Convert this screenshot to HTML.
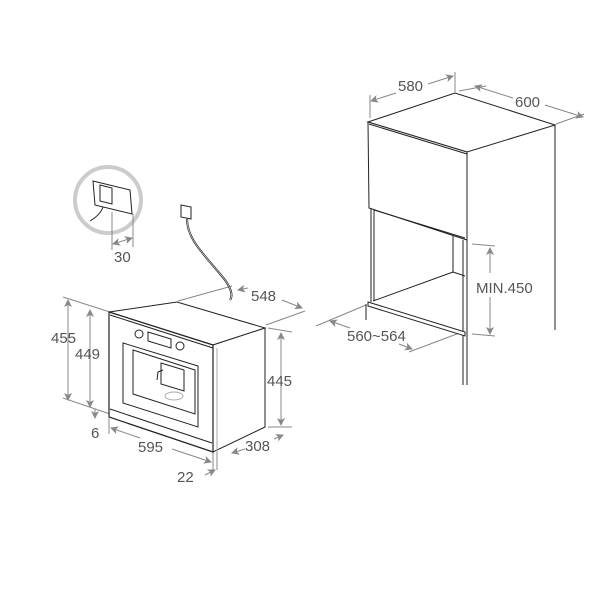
<!DOCTYPE html>
<html><head><style>
html,body{margin:0;padding:0;background:#fff;}
svg{display:block;}
text{font-family:"Liberation Sans",sans-serif;font-size:15px;fill:#555;}
</style></head><body>
<svg width="600" height="600" viewBox="0 0 600 600" xmlns="http://www.w3.org/2000/svg">
<defs>
<marker id="a" markerWidth="8" markerHeight="8" refX="7" refY="4" orient="auto-start-reverse" markerUnits="userSpaceOnUse">
<path d="M0,0 L8,4 L0,8 L2,4 Z" fill="#888"/></marker>
</defs>
<g stroke="#888" stroke-width="1" fill="none">
<circle cx="108" cy="200" r="33" stroke="#ccc" stroke-width="4"/>
<line x1="112" y1="212" x2="112" y2="250"/><line x1="133" y1="214" x2="133" y2="247"/>
<line x1="113" y1="244" x2="132" y2="238" marker-start="url(#a)" marker-end="url(#a)"/>
<line x1="63" y1="297" x2="110" y2="312"/><line x1="63" y1="398" x2="110" y2="414"/>
<line x1="68" y1="300" x2="68" y2="400" marker-start="url(#a)" marker-end="url(#a)"/>
<line x1="90" y1="310" x2="90" y2="407" marker-start="url(#a)" marker-end="url(#a)"/>
<line x1="95" y1="409" x2="95" y2="418" marker-end="url(#a)"/>
<line x1="109" y1="418" x2="109" y2="434"/><line x1="213" y1="452" x2="213" y2="470"/>
<line x1="111" y1="428" x2="140" y2="438" marker-start="url(#a)"/>
<line x1="172" y1="449" x2="211" y2="462" marker-end="url(#a)"/>
<line x1="217" y1="452" x2="217" y2="470"/>
<line x1="205" y1="475" x2="215" y2="470" marker-end="url(#a)"/>
<line x1="268" y1="328" x2="292" y2="332"/><line x1="268" y1="427" x2="292" y2="427"/>
<line x1="281" y1="333" x2="281" y2="425" marker-start="url(#a)" marker-end="url(#a)"/>
<line x1="232" y1="453" x2="245" y2="449" marker-start="url(#a)"/>
<line x1="274" y1="439" x2="283" y2="435" marker-end="url(#a)"/>
<line x1="178" y1="301" x2="232" y2="286"/>
<line x1="238" y1="290" x2="248" y2="288" marker-start="url(#a)"/>
<line x1="282" y1="300" x2="302" y2="308" marker-end="url(#a)"/>
<line x1="266" y1="325" x2="305" y2="311"/>
<line x1="370" y1="118" x2="370" y2="95"/><line x1="455" y1="92" x2="455" y2="72"/>
<line x1="371" y1="101" x2="396" y2="93" marker-start="url(#a)"/>
<line x1="428" y1="84" x2="453" y2="76" marker-end="url(#a)"/>
<line x1="459" y1="91" x2="486" y2="86" />
<line x1="475" y1="86" x2="513" y2="98" marker-start="url(#a)"/>
<line x1="545" y1="105" x2="583" y2="117" marker-end="url(#a)"/>
<line x1="556" y1="124" x2="584" y2="114"/>
<line x1="472" y1="244" x2="495" y2="246"/><line x1="472" y1="334" x2="495" y2="336"/>
<line x1="490" y1="248" x2="490" y2="273" marker-start="url(#a)"/>
<line x1="490" y1="297" x2="490" y2="334" marker-end="url(#a)"/>
<line x1="316" y1="326" x2="366" y2="305"/>
<line x1="330" y1="321" x2="350" y2="328" marker-start="url(#a)"/>
<line x1="399" y1="344" x2="412" y2="349" marker-end="url(#a)"/>
<line x1="409" y1="352" x2="462" y2="332"/>
</g>
<g stroke="#222" stroke-width="1" fill="#fff">
<path d="M93,181 L130,190 L132,214 L95,205 Z"/>
<path d="M100,185 L112,188 L112,204 L100,201 Z"/>
<path d="M103,207 C101,213 95,218 90,221" fill="none"/>
<path d="M181,205 L191,207 L191,219 L181,217 Z"/>
<path d="M187,219 C187,240 205,255 225,280 C232,290 233,296 230,300" fill="none" stroke-width="2"/>
<path d="M187,219 C187,240 205,255 225,280 C232,290 233,296 230,300" fill="none" stroke="#fff" stroke-width="0.6"/>
<path d="M109,312 L177,302 L265,328 L213,345 Z"/>
<path d="M213,345 L265,328 L265,427 L213,452 Z"/>
<line x1="217" y1="348" x2="217" y2="452" stroke="#aaa"/>
<path d="M109,312 L213,345 L213,452 L109,417 Z" stroke-width="1.2"/>
<line x1="110" y1="315" x2="213" y2="348"/>
<line x1="110" y1="409" x2="212" y2="443"/>
<path d="M123,343 L198,366 L198,427 L123,403 Z"/>
<path d="M133,350 L195,370 L195,414 L133,394 Z"/>
<path d="M148,332 L171,339 L171,348 L148,341 Z"/>
<circle cx="139" cy="334" r="4"/><circle cx="180" cy="346" r="4"/>
<path d="M161,363 L184,370 L184,391 L161,384 Z" fill="none"/>
<path d="M163,370 L158,372 L157,380" fill="none"/>
<ellipse cx="174" cy="396" rx="9" ry="4" stroke="#aaa"/>
<path d="M368,122 L455,93 L555,125 L467,152 Z"/>
<path d="M368,122 L467,152 L467,240 L369,208 Z"/>
<line x1="369" y1="124" x2="467" y2="154"/>
<line x1="555" y1="125" x2="555" y2="330" fill="none"/>
<line x1="467" y1="152" x2="467" y2="385"/>
<line x1="463" y1="240" x2="463" y2="385"/>
<line x1="371" y1="208" x2="371" y2="302"/><line x1="374" y1="210" x2="374" y2="301"/>
<line x1="374" y1="210" x2="465" y2="238"/>
<line x1="453" y1="236" x2="453" y2="272"/>
<line x1="373" y1="301" x2="453" y2="272"/>
<line x1="453" y1="272" x2="465" y2="276"/>
<path d="M368,302 L465,332 L465,336 L368,306 Z"/>
<line x1="366" y1="304" x2="366" y2="320"/>
</g>
<text x="51" y="343">455</text>
<text x="75" y="359">449</text>
<text x="91" y="438">6</text>
<text x="138" y="452">595</text>
<text x="177" y="482">22</text>
<text x="267" y="386">445</text>
<text x="245" y="451">308</text>
<text x="251" y="301">548</text>
<text x="114" y="262">30</text>
<text x="398" y="91">580</text>
<text x="515" y="107">600</text>
<text x="476" y="293">MIN.450</text>
<text x="347" y="341">560~564</text>
</svg>
</body></html>
